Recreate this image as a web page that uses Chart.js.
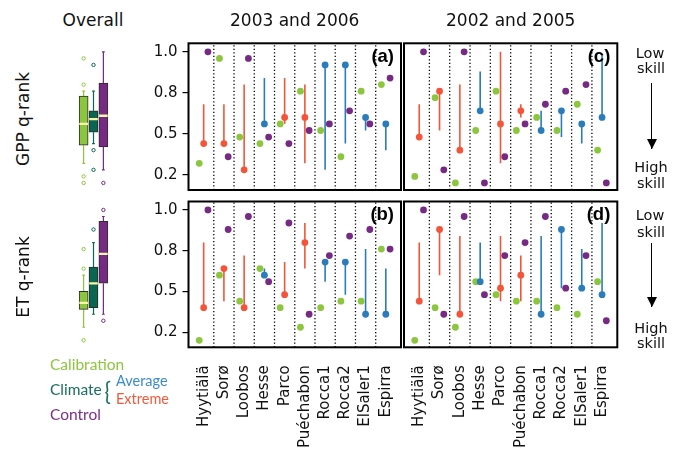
<!DOCTYPE html>
<html lang="en">
<head>
<meta charset="utf-8">
<title>GPP / ET q-rank</title>
<script src="https://cdn.jsdelivr.net/npm/chart.js@4.4.1/dist/chart.umd.min.js"></script>
<style>
  html, body { margin: 0; padding: 0; background: #fff; }
  #fig { position: relative; width: 678px; height: 449px; overflow: hidden; font-family: 'DejaVu Sans', sans-serif; color: #111; }
  #fig canvas { position: absolute; }
  .t { position: absolute; white-space: nowrap; line-height: 1; transform: translate(-50%, -50%); }
  .rot { transform: translate(-50%, -50%) rotate(-90deg); }
  .head { font-size: 17px; }
  .skill { font-size: 14.5px; }
  .lg { position: absolute; white-space: nowrap; line-height: 1; font-family: Lato, sans-serif; font-size: 15.5px; transform: translateY(-50%); }
  .brace { transform: translateY(-50%) scaleX(0.85); }
  .arrow { position: absolute; width: 1.6px; background: #000; }
  .arrow::after { content: ''; position: absolute; left: -4.2px; bottom: 0; border-left: 5px solid transparent; border-right: 5px solid transparent; border-top: 10px solid #000; }
</style>
</head>
<body>
<div id="fig">
  <canvas id="boxGpp" width="89" height="162" style="left:49px;top:33px"></canvas>
  <canvas id="boxEt"  width="89" height="162" style="left:49px;top:191px"></canvas>
  <canvas id="pA" width="276" height="162" style="left:130px;top:33px"></canvas>
  <canvas id="pC" width="224" height="162" style="left:399px;top:33px"></canvas>
  <canvas id="pB" width="276" height="258" style="left:130px;top:191px"></canvas>
  <canvas id="pD" width="224" height="258" style="left:399px;top:191px"></canvas>

  <div class="t head" style="left:93px;top:20px">Overall</div>
  <div class="t head" style="left:294.7px;top:20px">2003 and 2006</div>
  <div class="t head" style="left:510.7px;top:20px">2002 and 2005</div>
  <div class="t head rot" style="left:22.5px;top:119px">GPP q-rank</div>
  <div class="t head rot" style="left:22.5px;top:277px">ET q-rank</div>

  <div class="t skill" style="left:650px;top:53.3px">Low</div>
  <div class="t skill" style="left:651px;top:68.3px">skill</div>
  <div class="arrow" style="left:650.9px;top:83.3px;height:66px"></div>
  <div class="t skill" style="left:651px;top:166.7px">High</div>
  <div class="t skill" style="left:651px;top:183px">skill</div>

  <div class="t skill" style="left:650px;top:215px">Low</div>
  <div class="t skill" style="left:651px;top:231.7px">skill</div>
  <div class="arrow" style="left:650.9px;top:243.3px;height:63.4px"></div>
  <div class="t skill" style="left:651px;top:328.3px">High</div>
  <div class="t skill" style="left:651px;top:343.3px">skill</div>

  <div class="lg" style="left:50px;top:365px;color:#8cc63f">Calibration</div>
  <div class="lg" style="left:50px;top:390px;color:#17705d">Climate</div>
  <div class="lg brace" style="left:104px;top:390px;font-size:25px;color:#17705d">{</div>
  <div class="lg" style="left:116px;top:380.5px;font-size:14.5px;color:#3b8bcb">Average</div>
  <div class="lg" style="left:116px;top:399px;font-size:14.5px;color:#f25a3c">Extreme</div>
  <div class="lg" style="left:50px;top:415px;color:#7b2f8c">Control</div>
</div>

<script>
// ── Sites and y ticks (q-rank, labels printed with one decimal)
const sites = ['Hyytiälä', 'Sorø', 'Loobos', 'Hesse', 'Parco', 'Puéchabon', 'Rocca1', 'Rocca2', 'ElSaler1', 'Espirra'];
// climate run per site : E = extreme year, A = average year
const climateKind = ['E', 'E', 'E', 'A', 'E', 'E', 'A', 'A', 'A', 'A'];
const yTickValues = [0.25, 0.5, 0.75, 1.0];
const yTickLabels = ['0.2', '0.5', '0.8', '1.0'];

// ── (a) GPP, 2003 and 2006
const gppA_cal  = [0.32, 0.96, 0.48, 0.44, 0.56, 0.76, 0.52, 0.36, 0.76, 0.80];
const gppA_clim = [0.44, 0.44, 0.28, 0.56, 0.60, 0.60, 0.92, 0.92, 0.60, 0.56];
const gppA_lo   = [0.44, 0.44, 0.28, 0.56, 0.56, 0.32, 0.28, 0.44, 0.52, 0.40];
const gppA_hi   = [0.68, 0.68, 0.80, 0.84, 0.84, 0.80, 0.92, 0.92, 0.60, 0.56];
const gppA_ctrl = [1.00, 0.36, 0.96, 0.48, 0.44, 0.52, 0.56, 0.64, 0.56, 0.84];

// ── (c) GPP, 2002 and 2005
const gppC_cal  = [0.24, 0.72, 0.20, 0.52, 0.76, 0.52, 0.60, 0.52, 0.68, 0.40];
const gppC_clim = [0.48, 0.76, 0.40, 0.64, 0.56, 0.64, 0.52, 0.64, 0.56, 0.60];
const gppC_lo   = [0.48, 0.52, 0.40, 0.64, 0.32, 0.60, 0.52, 0.48, 0.44, 0.60];
const gppC_hi   = [0.68, 0.76, 0.80, 0.88, 1.00, 0.68, 0.64, 0.64, 0.56, 0.98];
const gppC_ctrl = [1.00, 0.28, 1.00, 0.20, 0.36, 0.56, 0.68, 0.76, 0.80, 0.20];

// ── (b) ET, 2003 and 2006
const etB_cal  = [0.20, 0.60, 0.44, 0.64, 0.40, 0.28, 0.40, 0.44, 0.44, 0.76];
const etB_clim = [0.40, 0.64, 0.40, 0.60, 0.48, 0.80, 0.68, 0.68, 0.36, 0.36];
const etB_lo   = [0.40, 0.44, 0.40, 0.60, 0.48, 0.64, 0.56, 0.48, 0.36, 0.36];
const etB_hi   = [0.80, 0.64, 0.72, 0.64, 0.68, 0.92, 0.68, 0.68, 0.76, 0.64];
const etB_ctrl = [1.00, 0.88, 0.96, 0.56, 0.92, 0.36, 0.72, 0.84, 0.88, 0.76];

// ── (d) ET, 2002 and 2005
const etD_cal  = [0.20, 0.40, 0.28, 0.56, 0.48, 0.44, 0.44, 0.40, 0.36, 0.56];
const etD_clim = [0.44, 0.88, 0.36, 0.56, 0.52, 0.60, 0.36, 0.88, 0.52, 0.48];
const etD_lo   = [0.44, 0.60, 0.36, 0.56, 0.44, 0.44, 0.36, 0.52, 0.52, 0.48];
const etD_hi   = [0.80, 0.88, 0.84, 0.80, 0.84, 0.72, 0.84, 0.88, 0.76, 0.92];
const etD_ctrl = [1.00, 0.36, 0.96, 0.48, 0.72, 0.80, 0.96, 0.52, 0.72, 0.32];

// ── Overall boxplots : Calibration, Climate, Control
const gppBoxLow  = [0.32, 0.44, 0.28];
const gppBoxQ1   = [0.43, 0.51, 0.42];
const gppBoxMed  = [0.56, 0.59, 0.61];
const gppBoxQ3   = [0.73, 0.64, 0.81];
const gppBoxHigh = [0.76, 0.76, 1.00];
const gppFliers  = [[0.96, 0.80, 0.24, 0.20], [0.92, 0.40, 0.28], [0.20]];

const etBoxLow  = [0.28, 0.36, 0.36];
const etBoxQ1   = [0.39, 0.40, 0.55];
const etBoxMed  = [0.43, 0.55, 0.73];
const etBoxQ3   = [0.50, 0.65, 0.93];
const etBoxHigh = [0.60, 0.80, 0.96];
const etFliers  = [[0.76, 0.64, 0.20], [0.88], [1.00, 0.32]];

// ── Styles
const Y_MIN = 0.157, Y_MAX = 1.052;
const C_CAL = '#8cc63f', C_CLIM = '#0b6651', C_CTRL = '#762a83';
const C_EXT = '#f4553a', C_AVG = '#2a7cba', C_MED = '#fbf7a6';

Chart.defaults.font.family = "'DejaVu Sans', sans-serif";
Chart.defaults.color = '#111';

const common = {
  responsive: false, animation: false, devicePixelRatio: 1, events: [],
  plugins: { legend: { display: false }, tooltip: { enabled: false } }
};

// ── Black frame round the plot area + panel letter
const framePlugin = {
  id: 'frame',
  afterDatasetsDraw(chart, args, opts) {
    if (!opts.on) return;
    const { ctx, chartArea: a } = chart;
    ctx.save();
    ctx.lineWidth = 2;
    ctx.strokeStyle = '#000';
    ctx.strokeRect(a.left, a.top, a.right - a.left, a.bottom - a.top);
    if (opts.tag) {
      ctx.font = "bold 18.5px 'Liberation Sans', Arial, sans-serif";
      ctx.fillStyle = '#000';
      ctx.textAlign = 'right';
      ctx.textBaseline = 'top';
      ctx.fillText(opts.tag, a.right - 7, a.top + 4);
    }
    ctx.restore();
  }
};
Chart.register(framePlugin);

// ─────────────────────────────────────────
//  Site panel : dots per run + climate range
// ─────────────────────────────────────────
function sitePanel(id, cal, clim, lo, hi, ctrl, cfg) {
  const sepPts = [];
  for (let i = 0; i < sites.length - 1; i++) {
    sepPts.push({ x: i + 0.5, y: Y_MIN }, { x: i + 0.5, y: Y_MAX }, { x: i + 0.5, y: null });
  }
  const rangePts = kind => {
    const pts = [];
    sites.forEach((s, i) => {
      if (climateKind[i] !== kind) return;
      pts.push({ x: i, y: lo[i] }, { x: i, y: hi[i] }, { x: i, y: null });
    });
    return pts;
  };
  const dots = (vals, dx, color) => ({
    type: 'scatter',
    data: vals.map((v, i) => ({ x: i + dx, y: v })),
    pointRadius: 3.4, pointBorderWidth: 0, pointHoverRadius: 0,
    pointBackgroundColor: color
  });
  const lines = (pts, color, w, dash) => ({
    type: 'line', data: pts, borderColor: color, borderWidth: w, borderDash: dash || [],
    pointRadius: 0, spanGaps: false, fill: false, tension: 0
  });

  const datasets = [
    dots(ctrl, 0.21, C_CTRL),
    dots(clim, 0, climateKind.map(k => k === 'E' ? C_EXT : C_AVG)),
    dots(cal, -0.22, C_CAL),
    lines(rangePts('E'), C_EXT, 1.6),
    lines(rangePts('A'), C_AVG, 1.6),
    lines(sepPts, '#000', 1.3, [1.3, 2.2])
  ];

  return new Chart(document.getElementById(id), {
    type: 'scatter',
    data: { datasets },
    options: {
      ...common,
      layout: { padding: cfg.pad },
      plugins: { ...common.plugins, frame: { on: true, tag: cfg.tag } },
      scales: {
        x: {
          type: 'linear', min: -0.75, max: 9.75,
          display: cfg.showX,
          afterBuildTicks: ax => { ax.ticks = sites.map((s, i) => ({ value: i })); },
          afterFit: ax => { if (cfg.showX) { ax.height = 101.7; } ax.paddingLeft = 0; ax.paddingRight = 0; },
          ticks: {
            callback: (v, i) => sites[i], autoSkip: false, minRotation: 90, maxRotation: 90,
            color: '#111', font: { size: 15 }, padding: 18
          },
          grid: { display: false, drawTicks: false },
          border: { display: false }
        },
        y: {
          min: Y_MIN, max: Y_MAX,
          display: cfg.showY,
          afterBuildTicks: ax => { ax.ticks = yTickValues.map(v => ({ value: v })); },
          afterFit: ax => { if (cfg.showY) { ax.width = 58.5; } ax.paddingTop = 0; ax.paddingBottom = 0; },
          ticks: { callback: (v, i) => yTickLabels[i], color: '#111', font: { size: 15 }, padding: 5 },
          grid: { drawOnChartArea: false, drawTicks: true, tickLength: 6, color: '#000', lineWidth: 1.2 },
          border: { display: false }
        }
      }
    }
  });
}

// ─────────────────────────────────────────
//  Overall boxplots (box = floating bar, median = thin bar on top)
// ─────────────────────────────────────────
function boxPanel(id, low, q1, med, q3, high, fliers, pad) {
  const xs = [1, 2, 3];
  const colors = [C_CAL, C_CLIM, C_CTRL];
  const cap = 0.14, medH = 0.005;

  const datasets = [
    {
      type: 'bar', data: xs.map((x, k) => ({ x, y: [med[k] - medH, med[k] + medH] })),
      backgroundColor: C_MED, borderWidth: 0, barThickness: 8, grouped: false
    },
    {
      type: 'bar', data: xs.map((x, k) => ({ x, y: [q1[k], q3[k]] })),
      backgroundColor: colors, borderColor: '#2b2b2b', borderWidth: 1, borderSkipped: false,
      barThickness: 9, grouped: false
    }
  ];
  xs.forEach((x, k) => {
    datasets.push({
      type: 'line',
      data: [
        { x, y: low[k] }, { x, y: q1[k] }, { x, y: null },
        { x, y: q3[k] }, { x, y: high[k] }, { x, y: null },
        { x: x - cap, y: low[k] }, { x: x + cap, y: low[k] }, { x, y: null },
        { x: x - cap, y: high[k] }, { x: x + cap, y: high[k] }
      ],
      borderColor: colors[k], borderWidth: 1.2, pointRadius: 0, spanGaps: false
    });
    datasets.push({
      type: 'scatter', data: fliers[k].map(v => ({ x, y: v })),
      pointRadius: 1.7, pointBorderWidth: 1, pointBorderColor: colors[k], pointBackgroundColor: '#fff'
    });
  });

  return new Chart(document.getElementById(id), {
    type: 'bar',
    data: { datasets },
    options: {
      ...common,
      layout: { padding: pad },
      scales: {
        x: { type: 'linear', min: 0, max: 4, display: false },
        y: { min: Y_MIN, max: Y_MAX, display: false }
      }
    }
  });
}

boxPanel('boxGpp', gppBoxLow, gppBoxQ1, gppBoxMed, gppBoxQ3, gppBoxHigh, gppFliers, { top: 10.3, bottom: 5 });
boxPanel('boxEt',  etBoxLow,  etBoxQ1,  etBoxMed,  etBoxQ3,  etBoxHigh,  etFliers,  { top: 10.5, bottom: 5.7 });

sitePanel('pA', gppA_cal, gppA_clim, gppA_lo, gppA_hi, gppA_ctrl,
  { tag: '(a)', showX: false, showY: true,  pad: { top: 10.3, right: 5, bottom: 5, left: 0 } });
sitePanel('pC', gppC_cal, gppC_clim, gppC_lo, gppC_hi, gppC_ctrl,
  { tag: '(c)', showX: false, showY: false, pad: { top: 10.3, right: 5.7, bottom: 5, left: 5 } });
sitePanel('pB', etB_cal, etB_clim, etB_lo, etB_hi, etB_ctrl,
  { tag: '(b)', showX: true,  showY: true,  pad: { top: 10.5, right: 5, bottom: 0, left: 0 } });
sitePanel('pD', etD_cal, etD_clim, etD_lo, etD_hi, etD_ctrl,
  { tag: '(d)', showX: true,  showY: false, pad: { top: 10.5, right: 5.7, bottom: 0, left: 5 } });
</script>
</body>
</html>
